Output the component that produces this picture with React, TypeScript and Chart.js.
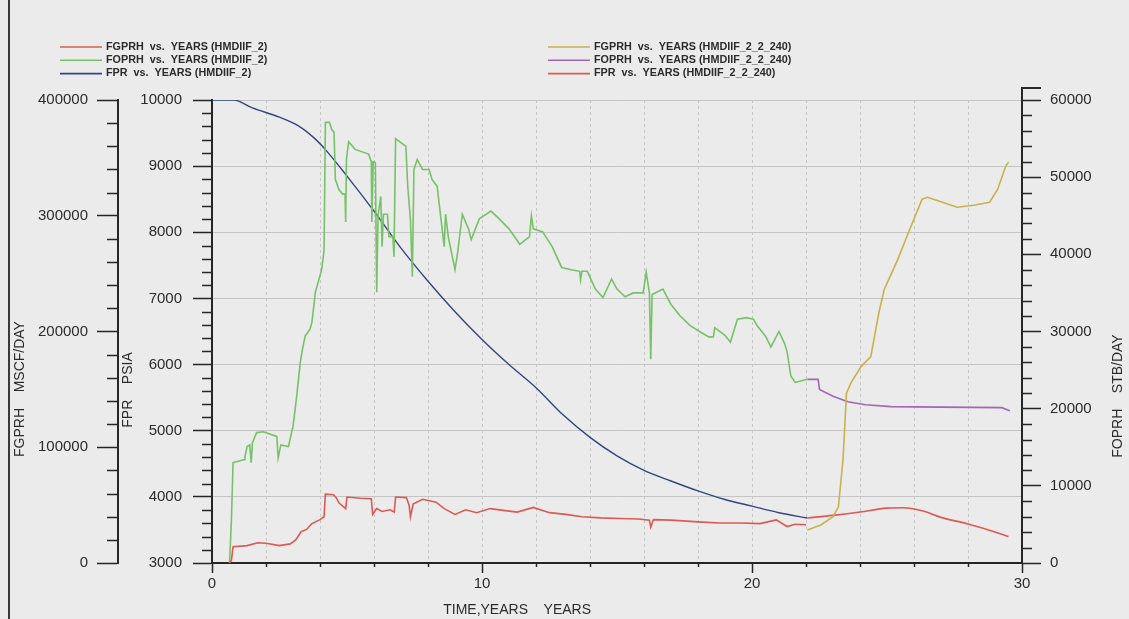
import React, { useEffect, useRef } from "react";
import { Chart, registerables } from "chart.js";

Chart.register(...registerables);

// Case HMDIIF_2: field gas rate FGPRH (MSCF/DAY)
const gasYears = [0.65, 0.72, 0.78, 1.3, 1.7, 2.0, 2.5, 2.9, 3.1, 3.3, 3.5, 3.7, 4.0, 4.15, 4.2, 4.5, 4.6, 4.7, 4.95, 5.0, 5.5, 5.9, 5.95, 6.1, 6.3, 6.6, 6.75, 6.8, 7.2, 7.3, 7.35, 7.45, 7.8, 8.3, 8.6, 9.0, 9.4, 9.8, 10.3, 10.8, 11.3, 11.9, 12.5, 13.1, 13.7, 14.4, 15.1, 15.8, 16.2, 16.25, 16.35, 17.0, 18.0, 18.8, 19.6, 20.3, 20.9, 21.3, 21.6, 22.0];
const gasRates = [0, 2500, 14000, 15000, 17500, 17000, 15000, 16500, 20000, 27000, 29000, 34000, 37500, 40000, 59500, 59000, 56500, 52000, 47000, 57000, 56000, 55500, 42000, 47000, 44500, 46000, 44000, 57000, 56500, 50000, 40000, 51000, 55000, 52500, 47000, 42000, 46000, 43500, 47000, 45500, 44000, 48000, 43500, 42000, 40000, 39000, 38500, 38000, 37000, 31000, 37500, 37000, 35500, 34500, 34600, 34000, 37200, 31500, 33500, 33000];

// Case HMDIIF_2: field oil rate FOPRH (STB/DAY)
const oilYears = [0.65, 0.72, 0.78, 1.2, 1.22, 1.3, 1.4, 1.45, 1.5, 1.65, 1.9, 2.4, 2.45, 2.55, 2.83, 3.0, 3.13, 3.27, 3.35, 3.45, 3.63, 3.7, 3.83, 4.06, 4.15, 4.2, 4.35, 4.43, 4.52, 4.57, 4.7, 4.84, 4.93, 4.95, 4.98, 5.06, 5.3, 5.8, 5.9, 5.92, 5.97, 6.05, 6.1, 6.15, 6.25, 6.3, 6.35, 6.5, 6.55, 6.7, 6.74, 6.8, 7.18, 7.25, 7.35, 7.42, 7.48, 7.6, 7.8, 8.04, 8.15, 8.34, 8.45, 8.6, 8.65, 8.75, 8.9, 9.0, 9.1, 9.27, 9.5, 9.6, 9.9, 10.33, 10.64, 11.0, 11.4, 11.76, 11.83, 11.9, 12.25, 12.6, 12.95, 13.3, 13.62, 13.65, 13.7, 13.9, 14.2, 14.48, 14.8, 15.0, 15.3, 15.6, 15.97, 16.08, 16.2, 16.25, 16.3, 16.7, 17.0, 17.34, 17.7, 18.1, 18.4, 18.57, 18.62, 19.0, 19.2, 19.46, 19.8, 20.05, 20.2, 20.5, 20.7, 21.0, 21.2, 21.3, 21.44, 21.6, 22.05];
const oilRates = [0, 5600, 13000, 13400, 13800, 15100, 15300, 13000, 15600, 16900, 17000, 16400, 13600, 15300, 15100, 17700, 21400, 26000, 27700, 29400, 30300, 31200, 35100, 38000, 40500, 57100, 57100, 56200, 55800, 49700, 48400, 47800, 47800, 44200, 52300, 54600, 53600, 53000, 52000, 44200, 52000, 51900, 35100, 45000, 47500, 41000, 45200, 45200, 42300, 42300, 39700, 55000, 54000, 48800, 44500, 37100, 51000, 52300, 51000, 51000, 49700, 48800, 45500, 41000, 45200, 42300, 39700, 38000, 40300, 45200, 43300, 41900, 44600, 45600, 44600, 43300, 41300, 42300, 45000, 43300, 42900, 41000, 38300, 38000, 37800, 36700, 37800, 37800, 35500, 34400, 36800, 35500, 34500, 35000, 35000, 37700, 35000, 26400, 34800, 35500, 33500, 32000, 30800, 29900, 29300, 29300, 30500, 29500, 28600, 31600, 31800, 31600, 30700, 29400, 28000, 30000, 28500, 27400, 24200, 23400, 23800];

// Case HMDIIF_2: field pressure FPR (PSIA)
const presYears = [0, 0.8, 1.5, 2.5, 3.2, 3.8, 4.2, 5, 6, 7, 8, 9, 10, 11, 12, 13, 14, 15, 16, 17, 18, 19, 20, 21, 22.05];
const presValues = [10000, 10000, 9880, 9740, 9610, 9420, 9250, 8850, 8320, 7760, 7260, 6800, 6380, 6000, 5650, 5240, 4900, 4620, 4400, 4240, 4090, 3960, 3860, 3760, 3680];

// Case HMDIIF_2_2_240: FGPRH (MSCF/DAY)
const gas240Years = [22.05, 22.55, 23.0, 23.2, 23.37, 23.5, 23.67, 24.04, 24.4, 24.7, 24.9, 25.4, 25.8, 26.3, 26.5, 27.0, 27.6, 28.2, 28.8, 29.1, 29.4, 29.5];
const gas240Rates = [28600, 32900, 40000, 48500, 89000, 147000, 155800, 169700, 178300, 216400, 236400, 262300, 285700, 314300, 316000, 312000, 307400, 309000, 311700, 322900, 342900, 346300];

// Case HMDIIF_2_2_240: FOPRH (STB/DAY)
const oil240Years = [22.05, 22.45, 22.5, 23.0, 23.55, 24.2, 25.15, 27.0, 29.25, 29.55];
const oil240Rates = [23800, 23800, 22500, 21600, 20900, 20500, 20260, 20200, 20130, 19740];

// Case HMDIIF_2_2_240: FPR (PSIA)
const pres240Years = [22.05, 23.0, 24.0, 25.0, 25.6, 26.3, 27.0, 28.0, 29.0, 29.5];
const pres240Values = [3680, 3720, 3770, 3830, 3835, 3790, 3690, 3590, 3470, 3400];

const seriesLabels = [
  "FGPRH  vs.  YEARS (HMDIIF_2)",
  "FOPRH  vs.  YEARS (HMDIIF_2)",
  "FPR  vs.  YEARS (HMDIIF_2)",
  "FGPRH  vs.  YEARS (HMDIIF_2_2_240)",
  "FOPRH  vs.  YEARS (HMDIIF_2_2_240)",
  "FPR  vs.  YEARS (HMDIIF_2_2_240)",
];
const seriesColors = ["#dc5a52", "#76c266", "#34457f", "#c8b24c", "#a266b4", "#dc5a52"];
const seriesAxes = ["yGas", "yOil", "yPres", "yGas", "yOil", "yPres"];
const seriesYears = [gasYears, oilYears, presYears, gas240Years, oil240Years, pres240Years];
const seriesValues = [gasRates, oilRates, presValues, gas240Rates, oil240Rates, pres240Values];

const AXIS_COLOR = "#262626";
const TEXT_COLOR = "#2b2b2b";
const FONT = "'Liberation Sans', Arial, sans-serif";

const isMajor = (v: number, every: number) =>
  Math.abs(v / every - Math.round(v / every)) < 1e-6;

// axis id, label interval, minor tick length
const minorSpec: [string, number, number][] = [
  ["yGas", 100000, 11],
  ["yPres", 1000, 10],
  ["yOil", 10000, 10],
  ["x", 10, 4],
];

const backgroundPlugin = {
  id: "paper",
  beforeDraw(chart: any) {
    const { ctx, width, height } = chart;
    ctx.save();
    ctx.fillStyle = "#ebebeb";
    ctx.fillRect(0, 0, width, height);
    ctx.strokeStyle = "#3a3a3a";
    ctx.lineWidth = 2;
    ctx.beginPath();
    ctx.moveTo(9, 0);
    ctx.lineTo(9, height);
    ctx.stroke();
    ctx.restore();
  },
};

const minorTickPlugin = {
  id: "minorTicks",
  afterDraw(chart: any) {
    const ctx = chart.ctx;
    ctx.save();
    ctx.strokeStyle = AXIS_COLOR;
    ctx.lineWidth = 1.5;
    for (const [id, every, len] of minorSpec) {
      const s = chart.scales[id];
      for (const t of s.ticks) {
        if (isMajor(t.value, every)) continue;
        const p = Math.round(s.getPixelForValue(t.value)) + 0.5;
        ctx.beginPath();
        if (s.isHorizontal()) {
          ctx.moveTo(p, s.top);
          ctx.lineTo(p, s.top + len);
        } else if (s.position === "left") {
          ctx.moveTo(s.right - len, p);
          ctx.lineTo(s.right, p);
        } else {
          ctx.moveTo(s.left, p);
          ctx.lineTo(s.left + len, p);
        }
        ctx.stroke();
      }
    }
    // the right axis rises a little above the plot, closed by a short cap
    const r = chart.scales.yOil;
    ctx.lineWidth = 2;
    ctx.beginPath();
    ctx.moveTo(r.left + 19, r.top - 12);
    ctx.lineTo(r.left, r.top - 12);
    ctx.lineTo(r.left, r.top);
    ctx.stroke();
    ctx.restore();
  },
};

const titlePlugin = {
  id: "axisTitles",
  afterDraw(chart: any) {
    const ctx = chart.ctx;
    const { yGas, yPres, yOil, x } = chart.scales;
    const area = chart.chartArea;
    ctx.save();
    ctx.fillStyle = TEXT_COLOR;
    ctx.font = `14px ${FONT}`;
    ctx.textAlign = "center";
    ctx.textBaseline = "middle";
    const vertical = (text: string, cx: number, cy: number) => {
      ctx.save();
      ctx.translate(cx, cy);
      ctx.rotate(-Math.PI / 2);
      ctx.fillText(text, 0, 0);
      ctx.restore();
    };
    const midY = area.bottom - 174;
    vertical("FGPRH    MSCF/DAY", yGas.left + 20, midY);
    vertical("FPR    PSIA", yPres.left + 10, midY + 1);
    vertical("FOPRH    STB/DAY", yOil.right - 11, midY + 7);
    ctx.fillText("TIME,YEARS    YEARS", x.getPixelForValue(11.3), x.bottom - 9);
    ctx.restore();
  },
};

const legendPlugin = {
  id: "columnLegend",
  afterDraw(chart: any) {
    const ctx = chart.ctx;
    ctx.save();
    ctx.font = `bold 10px ${FONT}`;
    ctx.textBaseline = "middle";
    ctx.textAlign = "left";
    chart.data.datasets.forEach((ds: any, i: number) => {
      const col = Math.floor(i / 3);
      const row = i % 3;
      const x0 = col === 0 ? 60 : 548;
      const y = 47 + row * 13.3;
      ctx.strokeStyle = ds.borderColor;
      ctx.lineWidth = 1.6;
      ctx.beginPath();
      ctx.moveTo(x0, y);
      ctx.lineTo(x0 + 42, y);
      ctx.stroke();
      ctx.fillStyle = TEXT_COLOR;
      ctx.save();
      ctx.translate(x0 + 46, y);
      ctx.scale(1.08, 1);
      ctx.fillText(ds.label, 0, 0);
      ctx.restore();
    });
    ctx.restore();
  },
};

const tickFont = { family: FONT, size: 15 };

export default function App() {
  const canvasRef = useRef<HTMLCanvasElement | null>(null);

  useEffect(() => {
    const canvas = canvasRef.current;
    if (!canvas) return;

    const datasets = seriesLabels.map((label, i) => ({
      label,
      data: seriesYears[i].map((t, k) => ({ x: t, y: seriesValues[i][k] })),
      borderColor: seriesColors[i],
      backgroundColor: seriesColors[i],
      borderWidth: i === 2 ? 1.4 : 1.6,
      pointRadius: 0,
      tension: 0,
      cubicInterpolationMode: i === 2 || i === 5 ? "monotone" : "default",
      yAxisID: seriesAxes[i],
      fill: false,
    }));

    const chart = new Chart(canvas, {
      type: "line",
      data: { datasets } as any,
      options: {
        responsive: false,
        animation: false,
        events: [],
        layout: { padding: { top: 100, left: 0, right: 0, bottom: 0 } },
        plugins: { legend: { display: false }, tooltip: { enabled: false }, title: { display: false } },
        scales: {
          x: {
            type: "linear",
            position: "bottom",
            min: 0,
            max: 30,
            afterFit: (s: any) => { s.height = 56; },
            ticks: {
              stepSize: 2,
              autoSkip: false,
              maxRotation: 0,
              padding: 2,
              color: TEXT_COLOR,
              font: tickFont,
              callback: (v: any) => (isMajor(Number(v), 10) ? String(v) : ""),
            },
            grid: {
              color: "#c6c6c6",
              lineWidth: 1,
              tickLength: 10,
              tickWidth: 1.5,
              tickColor: (c: any) => (isMajor(c.tick.value, 10) ? AXIS_COLOR : "transparent"),
            },
            border: { color: AXIS_COLOR, width: 2, dash: [3, 3] },
          },
          yGas: {
            type: "linear",
            position: "left",
            weight: 2,
            min: 0,
            max: 400000,
            afterFit: (s: any) => { s.width = 118; },
            ticks: {
              stepSize: 20000,
              autoSkip: false,
              padding: 9,
              color: TEXT_COLOR,
              font: tickFont,
              callback: (v: any) => (isMajor(Number(v), 100000) ? String(v) : ""),
            },
            grid: {
              drawOnChartArea: false,
              tickLength: 21,
              tickWidth: 1.5,
              tickColor: (c: any) => (isMajor(c.tick.value, 100000) ? AXIS_COLOR : "transparent"),
            },
            border: { color: AXIS_COLOR, width: 2 },
          },
          yPres: {
            type: "linear",
            position: "left",
            weight: 1,
            min: 3000,
            max: 10000,
            afterFit: (s: any) => { s.width = 94; },
            ticks: {
              stepSize: 200,
              autoSkip: false,
              padding: 11,
              color: TEXT_COLOR,
              font: tickFont,
              callback: (v: any) => (isMajor(Number(v), 1000) ? String(v) : ""),
            },
            grid: {
              color: (c: any) => (c.tick && isMajor(c.tick.value, 1000) ? "#c4c4c4" : "transparent"),
              lineWidth: 1,
              tickLength: 19,
              tickWidth: 1.5,
              tickColor: (c: any) => (isMajor(c.tick.value, 1000) ? AXIS_COLOR : "transparent"),
            },
            border: { color: AXIS_COLOR, width: 2 },
          },
          yOil: {
            type: "linear",
            position: "right",
            min: 0,
            max: 60000,
            afterFit: (s: any) => { s.width = 107; },
            ticks: {
              stepSize: 2000,
              autoSkip: false,
              padding: 9,
              color: TEXT_COLOR,
              font: tickFont,
              callback: (v: any) => (isMajor(Number(v), 10000) ? String(v) : ""),
            },
            grid: {
              drawOnChartArea: false,
              tickLength: 19,
              tickWidth: 1.5,
              tickColor: (c: any) => (isMajor(c.tick.value, 10000) ? AXIS_COLOR : "transparent"),
            },
            border: { color: AXIS_COLOR, width: 2 },
          },
        },
      } as any,
      plugins: [backgroundPlugin, minorTickPlugin, titlePlugin, legendPlugin],
    });

    return () => chart.destroy();
  }, []);

  return (
    <div style={{ position: "fixed", left: 0, top: 0, width: 1129, height: 619 }}>
      <canvas ref={canvasRef} width={1129} height={619} style={{ display: "block" }} />
    </div>
  );
}
